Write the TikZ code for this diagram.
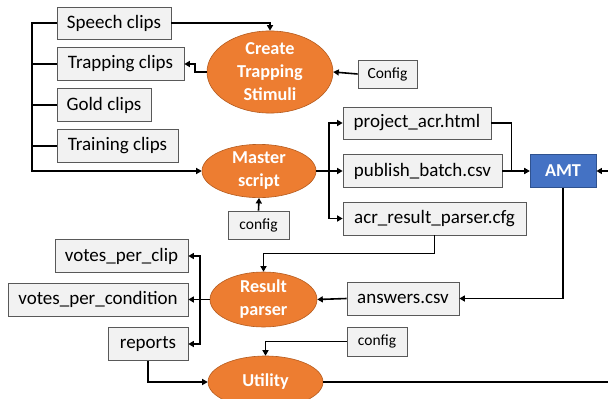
\documentclass[tikz,border=0pt]{standalone}
\usepackage{fontspec}
\setmainfont{Carlito}
\usetikzlibrary{shapes.geometric,arrows.meta}
\definecolor{boxfill}{HTML}{F2F2F2}
\definecolor{procorange}{HTML}{ED7D31}
\definecolor{procedge}{HTML}{B55B1E}
\definecolor{amtblue}{HTML}{4472C4}
\definecolor{amtedge}{HTML}{2F528F}

\begin{document}
\begin{tikzpicture}[x=1pt, y=-1pt,
    file/.style={draw=black!65, line width=0.7pt, fill=boxfill, inner sep=0pt,
        font=\fontsize{19}{22}\selectfont},
    cfgbox/.style={file, font=\fontsize{15.5}{18}\selectfont},
    proc/.style={ellipse, draw=procedge, line width=0.6pt, fill=procorange, inner sep=0pt,
        text=white, align=center, font=\bfseries\fontsize{18.2}{23}\selectfont},
    link/.style={line width=1.6pt},
    flow/.style={link, -{Triangle[length=5.5pt,width=6pt]}}]

    \useasboundingbox (0,0) rectangle (608,399);

    % Clip boxes
    \node[file, minimum width=114, minimum height=32] (speech) at (114,23) {Speech clips};
    \node[file, minimum width=127, minimum height=33] (trapping) at (120.5,64) {Trapping clips};
    \node[file, minimum width=94, minimum height=33] (gold) at (104,105) {Gold clips};
    \node[file, minimum width=121, minimum height=33] (training) at (117.5,146) {Training clips};

    % Trapping stimuli
    \node[proc, minimum width=126, minimum height=70] (cts) at (270,72) {Create\\Trapping\\Stimuli};
    \node[cfgbox, minimum width=59, minimum height=28] (cfgA) at (387.5,74) {Config};

    % Master script and its outputs
    \node[proc, minimum width=114, minimum height=52] (master) at (259,171) {Master\\script};
    \node[cfgbox, minimum width=61, minimum height=28] (cfgB) at (258.5,225) {config};
    \node[file, minimum width=148, minimum height=32] (project) at (417,123) {project\_acr.html};
    \node[file, minimum width=159, minimum height=33] (publish) at (422.5,171) {publish\_batch.csv};
    \node[file, minimum width=183, minimum height=33] (acrcfg) at (434.5,218.5) {acr\_result\_parser.cfg};
    \node[draw=amtedge, line width=0.8pt, fill=amtblue, text=white, inner sep=0pt,
        minimum width=66, minimum height=33, font=\bfseries\fontsize{18.2}{20}\selectfont]
        (amt) at (563,171) {AMT};

    % Result parser
    \node[file, minimum width=112, minimum height=33] (answers) at (403,298.5) {answers.csv};
    \node[proc, minimum width=107, minimum height=55] (result) at (263.5,299.5) {Result\\parser};
    \node[file, minimum width=133, minimum height=33] (vpc) at (121.5,256) {votes\_per\_clip};
    \node[file, minimum width=180, minimum height=33] (vpcond) at (98,299.5) {votes\_per\_condition};
    \node[file, minimum width=80, minimum height=33] (reports) at (148,344) {reports};

    % Utility
    \node[cfgbox, minimum width=60, minimum height=29] (cfgC) at (377,341.5) {config};
    \node[proc, minimum width=115, minimum height=52] (utility) at (265.5,382) {Utility};

    % Free ends and bus points
    \coordinate (busTop) at (32,23);
    \coordinate (busBot) at (32,171);
    \coordinate (split) at (329,171);
    \coordinate (split2) at (200,299.5);
    \coordinate (amtIn) at (608,171);
    \coordinate (utilOut) at (608,382);

    % Connectors
    \draw[flow] (speech.west) -- (busTop) -- (busBot) -- (master.west);
    \draw[link] (trapping.west) -- (trapping.west -| busTop);
    \draw[link] (gold.west) -- (gold.west -| busTop);
    \draw[link] (training.west) -- (training.west -| busTop);
    \draw[flow] (speech.east) -| (cts.north);
    \draw[flow] (cts.west) -- ++(-12,0) |- (trapping.east);
    \draw[flow] (cfgA.west) -- (cts.east);
    \draw[flow] (cfgB.north) -- (master.south);
    \draw[link] (master.east) -- (split);
    \draw[flow] (split) |- (project.west);
    \draw[flow] (split) -- (publish.west);
    \draw[flow] (split) |- (acrcfg.west);
    \draw[flow] (project.east) -- ++(20,0) |- (amt.west);
    \draw[flow] (publish.east) -- (amt.west);
    \draw[flow] (amtIn) -- (amt.east);
    \draw[flow] (amt.south) |- (answers.east);
    \draw[flow] (answers.west) -- (result.east);
    \draw[flow] (acrcfg.south) -- ++(0,18) -| (result.north);
    \draw[link] (result.west) -- (split2);
    \draw[flow] (split2) |- (vpc.east);
    \draw[flow] (split2) -- (vpcond.east);
    \draw[flow] (split2) |- (reports.east);
    \draw[flow] (reports.south) |- (utility.west);
    \draw[flow] (cfgC.west) -| (utility.north);
    \draw[link] (utility.east) -- (utilOut);

\end{tikzpicture}
\end{document}
